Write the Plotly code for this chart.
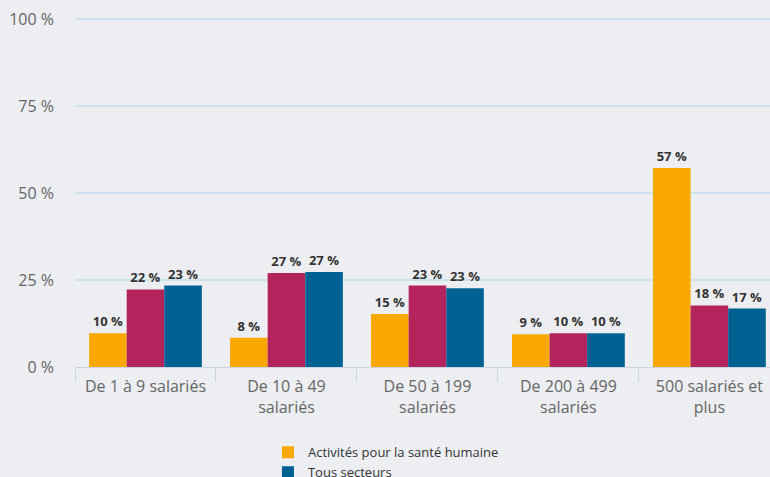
import plotly.graph_objects as go

categories = ["De 1 à 9 salariés", "De 10 à 49<br>salariés", "De 50 à 199<br>salariés",
              "De 200 à 499<br>salariés", "500 salariés et<br>plus"]
sante_humaine = [9.7, 8.4, 15.2, 9.4, 57.2]
sante_action_sociale = [22.3, 27.0, 23.4, 9.7, 17.7]
tous_secteurs = [23.4, 27.3, 22.6, 9.7, 16.8]
y_ticks = [0, 25, 50, 75, 100]
y_tick_labels = ["0 %", "25 %", "50 %", "75 %", "100 %"]

label_font = dict(family="Open Sans", size=13, color="#333333")

fig = go.Figure()
fig.add_trace(go.Bar(x=categories, y=sante_humaine, name="Activités pour la santé humaine",
                     marker=dict(color="#F9A800", line=dict(width=0)),
                     texttemplate="<b>%{y:.0f} %</b>", textposition="outside",
                     textfont=label_font, cliponaxis=False))
fig.add_trace(go.Bar(x=categories, y=sante_action_sociale, name="Santé humaine et action sociale",
                     marker=dict(color="#B3245D", line=dict(width=0)),
                     texttemplate="<b>%{y:.0f} %</b>", textposition="outside",
                     textfont=label_font, cliponaxis=False, showlegend=False))
fig.add_trace(go.Bar(x=categories, y=tous_secteurs, name="Tous secteurs",
                     marker=dict(color="#006192", line=dict(width=0)),
                     texttemplate="<b>%{y:.0f} %</b>", textposition="outside",
                     textfont=label_font, cliponaxis=False))

fig.update_layout(
    width=770, height=477,
    margin=dict(l=75, r=0, t=18, b=110, autoexpand=False),
    paper_bgcolor="#ECEEF1", plot_bgcolor="#ECEEF1",
    barmode="group", bargap=0.2, bargroupgap=0,
    font=dict(family="Open Sans", size=13, color="#666666"),
    showlegend=True,
    legend=dict(orientation="v", xref="container", yref="container",
                x=0.348, xanchor="left", y=0.083, yanchor="top",
                font=dict(family="Open Sans", size=13, color="#333333"),
                bgcolor="rgba(0,0,0,0)", traceorder="normal", tracegroupgap=0),
    xaxis=dict(range=[-0.5, 4.43], showgrid=False, showline=True, linecolor="#C8D6E5",
               linewidth=1, ticks="outside", tickson="boundaries", ticklen=14,
               tickcolor="#C8D6E5", tickfont=dict(size=16, color="#666666"), zeroline=False,
               ticklabelstandoff=5),
    yaxis=dict(range=[0, 100.3], tickvals=y_ticks, ticktext=y_tick_labels, showgrid=True,
               gridcolor="#CBE3EC", gridwidth=2, zeroline=False, showline=False,
               ticks="", tickfont=dict(size=16, color="#666666"), ticklabelstandoff=20),
)

fig.write_html("out.html", config={"displayModeBar": False},
               post_script="document.body.style.margin='0';document.body.style.overflow='hidden';")
